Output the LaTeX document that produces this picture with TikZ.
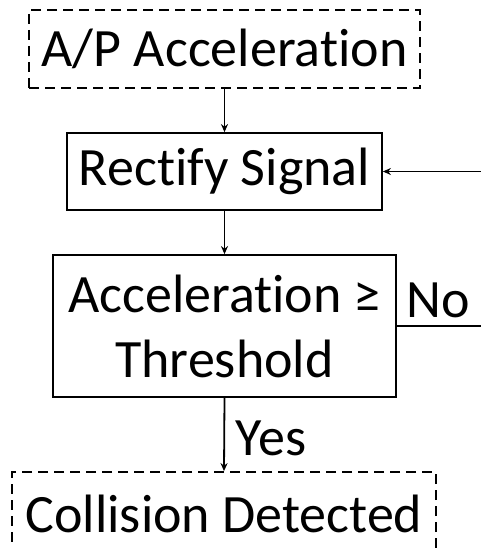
\documentclass[tikz,border=0pt]{standalone}
\usepackage{fontspec}
\setmainfont[Ligatures={NoCommon}]{Carlito}
\usetikzlibrary{arrows.meta}
\tikzset{
  box/.style={draw, line width=1.8pt, inner sep=0pt, font=\fontsize{54}{65}\selectfont, align=center},
  dbox/.style={box, dash pattern=on 10pt off 6pt},
  conn/.style={line width=1.8pt, -{Stealth[length=8pt,width=7pt]}},
  plain/.style={line width=1.8pt},
  lbl/.style={font=\fontsize{54}{65}\selectfont, inner sep=0pt}
}
\begin{document}
\begin{tikzpicture}[x=1pt,y=-1pt]
\clip (0,0) rectangle (481,548);
\useasboundingbox (0,0) rectangle (481,548);
\node[dbox, minimum width=391pt, minimum height=78pt] (b1) at (224.5,49) {A/P Acceleration};
\node[box, minimum width=315pt, minimum height=77pt] (b2) at (224.5,171.5) {Rectify Signal};
\node[box, minimum width=343pt, minimum height=142pt] (b3) at (224.5,326) {Acceleration ≥\\Threshold};
\node[dbox, minimum width=424pt, minimum height=84pt] (b4) at (224,514) {Collision Detected};
\coordinate (fb) at (485,171.5);
\coordinate (no) at (485,326);
\draw[conn] (b1.south) -- (b2.north);
\draw[conn] (b2.south) -- (b3.north);
\draw[conn] (b3.south) -- (b4.north);
\draw[conn] (fb) -- (b2.east);
\draw[plain] (b3.east) -- (no);
\node[lbl] (nolbl) at (438,300) {No};
\node[lbl] (yeslbl) at (271,438) {Yes};
\end{tikzpicture}
\end{document}
